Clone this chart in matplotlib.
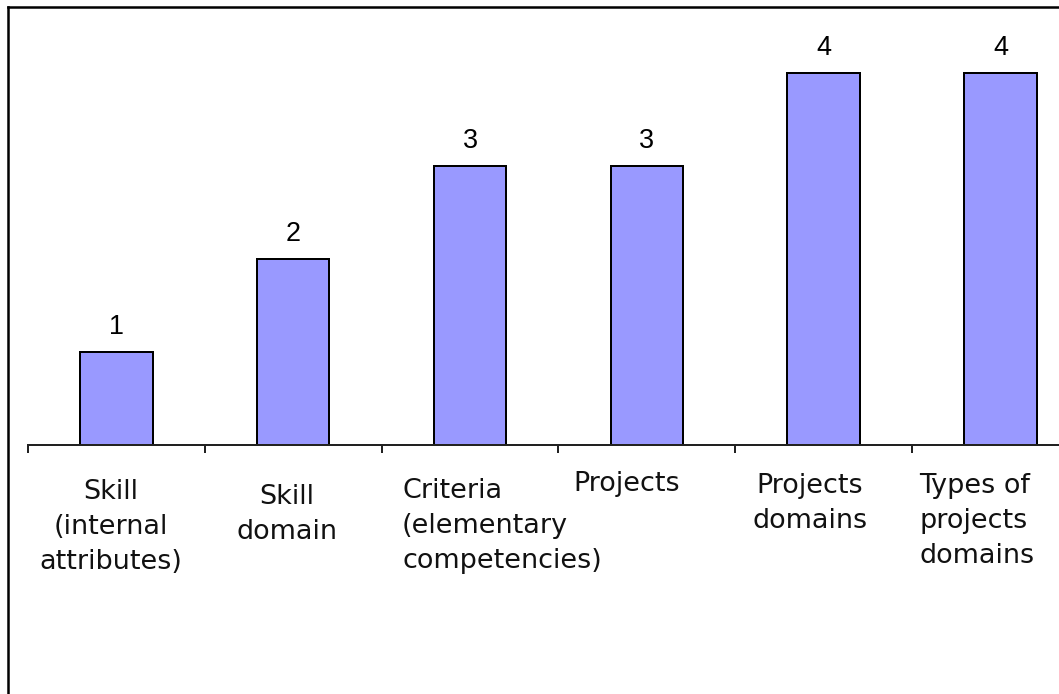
import matplotlib.pyplot as plt
from matplotlib.lines import Line2D

categories = ["Skill\n(internal\nattributes)", "Skill\ndomain",
              "Criteria\n(elementary\ncompetencies)", "Projects",
              "Projects\ndomains", "Types of\nprojects\ndomains"]
counts = [1, 2, 3, 3, 4, 4]

# label placement (pixels, dpi=72 so points == pixels)
lab_dx = [-6, -6, -68, -20, -14, -81]
lab_dy = [34, 39, 33, 26, 28, 28]
lab_ha = ["center", "center", "left", "center", "center", "left"]

W, H = 1059, 694
fig = plt.figure(figsize=(W / 72, H / 72), dpi=72)
ax = fig.add_axes([28 / W, (H - 445) / H, 6 * 176.8 / W, 4.5 * 93 / H])

x = list(range(len(counts)))
ax.bar(x, counts, width=0.41, color="#9999FF", edgecolor="black", linewidth=2)

for i, v in enumerate(counts):
    ax.annotate(str(v), (i, v), xytext=(0, 18), textcoords="offset points",
                ha="center", va="baseline", fontsize=27, family="Liberation Sans")

for i, lab in enumerate(categories):
    ax.annotate(lab, (i, 0), xytext=(lab_dx[i], -lab_dy[i]), textcoords="offset points",
                ha=lab_ha[i], va="top", multialignment=lab_ha[i],
                fontsize=27, linespacing=1.44, family="DejaVu Sans", color="#111111")

ax.set_xlim(-0.5, 5.5)
ax.set_ylim(0, 4.5)
ax.set_xticks([i - 0.5 for i in range(len(counts) + 1)])
ax.set_xticklabels([])
ax.set_yticks([])
ax.tick_params(axis="x", direction="out", length=8, width=2, color="#222222")
for s in ["left", "top", "right"]:
    ax.spines[s].set_visible(False)
ax.spines["bottom"].set_linewidth(2)
ax.spines["bottom"].set_color("#222222")

# outer chart border (only left and top edges are inside the picture)
fig.add_artist(Line2D([7.5 / W, 7.5 / W], [0, 1 - 6.5 / H], color="black", linewidth=2.5))
fig.add_artist(Line2D([7.5 / W, 1], [1 - 6.5 / H, 1 - 6.5 / H], color="black", linewidth=2.5))

fig.savefig("out.png", dpi=72)
